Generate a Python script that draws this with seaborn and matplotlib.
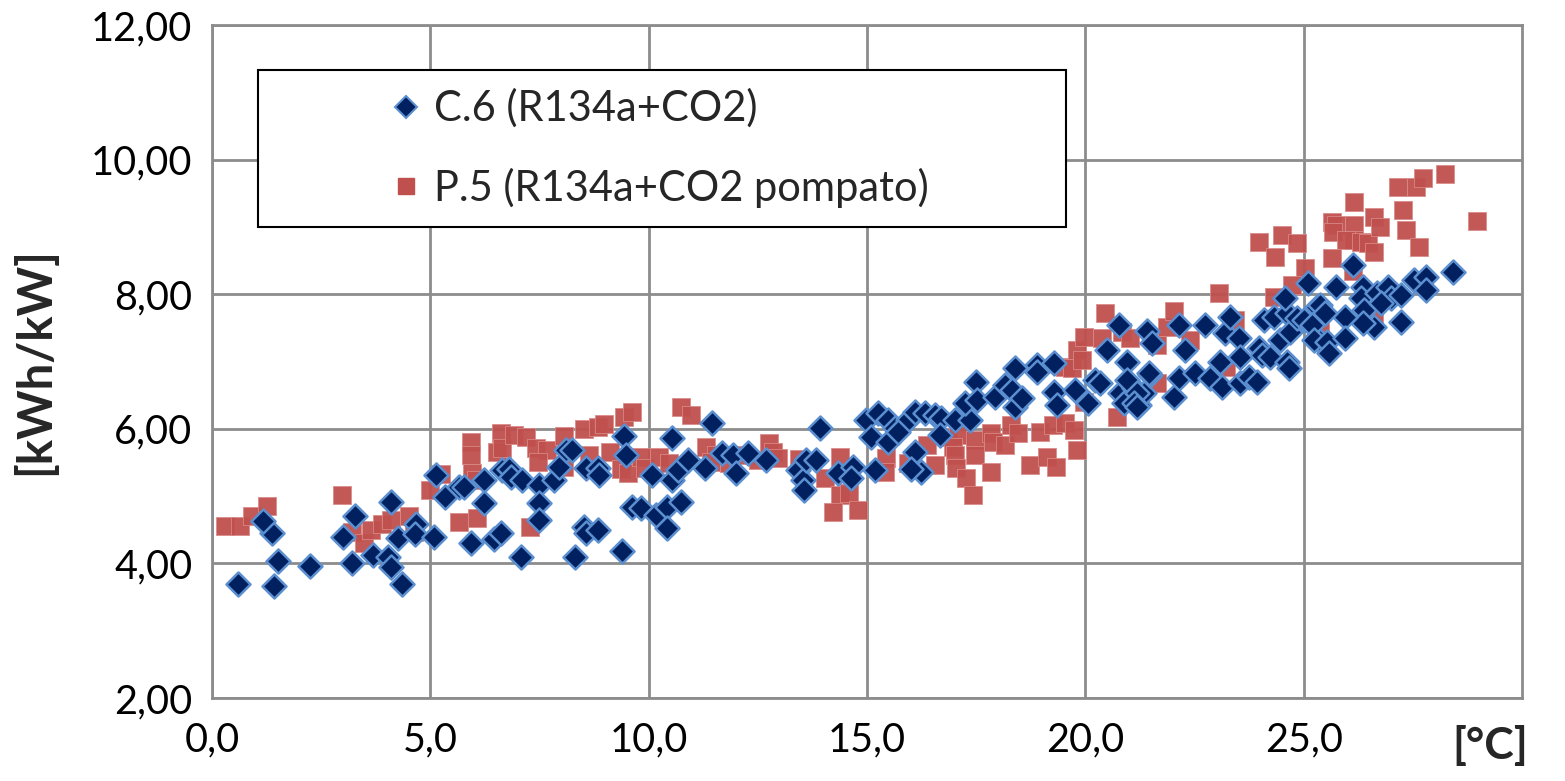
import matplotlib
matplotlib.use("Agg")
import matplotlib.pyplot as plt
import seaborn as sns
import pandas as pd
from matplotlib.lines import Line2D

# ---- data ----
c6_label = "C.6 (R134a+CO2)"
p5_label = "P.5 (R134a+CO2 pompato)"

c6_temp = [0.59, 1.42, 1.51, 1.37, 1.16, 2.24, 3.20, 3.00, 3.27, 3.68, 4.02, 4.11, 4.34, 4.11, 4.25, 4.68, 4.66, 5.09, 5.14, 5.34, 5.66,
           5.78, 6.23, 6.23, 5.94, 6.46, 6.62, 7.08, 6.64, 6.80, 6.85, 7.10, 7.49, 7.49, 7.49, 7.83, 7.95, 8.11, 8.24, 8.52, 8.56, 8.84,
           8.31, 8.56, 8.84, 8.86, 9.38, 9.43, 9.47, 9.61, 9.82, 10.07, 10.16, 10.41, 10.41, 10.53, 10.53, 10.73, 10.68, 10.91,
           11.30, 11.44, 11.67, 11.94, 11.99, 12.69, 12.28, 13.42, 13.54, 13.56, 13.61, 13.84, 13.93, 14.34, 14.68, 14.63, 14.98,
           15.25, 15.48, 15.09, 15.48, 15.18, 15.64, 15.94, 16.10, 16.32, 16.55, 16.10, 16.23,
           15.71, 16.69, 17.01, 17.35, 17.24, 17.49, 17.53, 17.92, 18.15, 18.33, 18.38, 18.56, 18.38, 18.90, 18.90, 19.29, 19.29,
           19.36, 19.77, 20.05, 20.21, 20.34, 20.50, 20.78, 20.96, 20.80, 21.12, 20.89, 21.23, 21.35, 21.42, 21.48, 16.00, 16.67,
           21.53, 22.15, 22.28, 22.74, 23.20, 23.31, 23.52, 23.54, 23.08, 23.97, 24.04, 24.22, 24.09, 24.32, 24.45, 24.61, 24.68,
           24.61, 24.66, 24.57, 24.84, 25.11, 25.00, 25.30, 25.34, 20.96, 21.19, 21.46, 21.12, 22.03, 22.15, 22.51, 22.85, 23.13,
           23.54, 23.74, 23.92, 21.19,
           25.75, 26.14, 26.37, 26.32, 26.67, 26.94, 27.01, 27.24, 26.39, 26.60, 26.37, 25.94, 25.37, 25.48, 25.18, 25.23, 25.53,
           25.94, 25.59, 27.53, 27.81, 27.81, 28.42, 27.24, 26.78]
c6_ratio = [3.70, 3.67, 4.03, 4.45, 4.63, 3.96, 4.00, 4.39, 4.70, 4.12, 4.09, 3.94, 3.70, 4.91, 4.37, 4.59, 4.43, 4.39, 5.31, 4.99, 5.14,
            5.14, 5.24, 4.90, 4.31, 4.36, 4.45, 4.09, 5.39, 5.40, 5.28, 5.24, 5.17, 4.90, 4.65, 5.24, 5.43, 5.69, 5.69, 4.54, 4.45, 4.50,
            4.09, 5.42, 5.42, 5.31, 4.19, 5.89, 5.61, 4.84, 4.82, 5.31, 4.72, 4.84, 4.52, 5.86, 5.24, 4.91, 5.39, 5.54,
            5.42, 6.09, 5.64, 5.61, 5.34, 5.54, 5.64, 5.39, 5.24, 5.09, 5.54, 5.54, 6.01, 5.34, 5.43, 5.27, 6.13,
            6.24, 6.13, 5.88, 5.80, 5.39, 6.01, 6.13, 6.25, 6.24, 6.21, 5.66, 5.36,
            5.95, 6.16, 6.13, 6.13, 6.38, 6.70, 6.43, 6.47, 6.65, 6.58, 6.32, 6.46, 6.90, 6.95, 6.84, 6.98, 6.55,
            6.35, 6.58, 6.38, 6.73, 6.68, 7.17, 7.54, 6.99, 6.53, 6.61, 6.38, 6.35, 6.53, 7.46, 6.80, 5.41, 5.91,
            7.28, 7.54, 7.17, 7.54, 7.42, 7.66, 7.35, 7.07, 6.99, 7.20, 7.10, 7.07, 7.62, 7.66, 7.32, 7.72, 7.44,
            6.99, 6.90, 7.94, 7.65, 8.17, 7.62, 7.81, 7.32, 6.73, 6.53, 6.83, 6.38, 6.47, 6.76, 6.83, 6.76, 6.62,
            6.68, 6.77, 6.70, 6.32,
            8.10, 8.44, 8.10, 7.95, 8.02, 8.11, 7.95, 7.99, 7.77, 7.51, 7.57, 7.66, 7.84, 7.72, 7.54, 7.32, 7.29,
            7.35, 7.13, 8.21, 8.26, 8.06, 8.33, 7.59, 7.87]

p5_temp = [0.30, 0.64, 0.91, 1.26, 2.97, 3.20, 3.47, 3.65, 3.90, 4.09, 4.52, 4.63, 5.00, 5.25, 5.66,
           5.94, 5.94, 5.96, 6.05, 6.07, 6.62, 6.53, 6.64, 6.92, 7.19, 7.42, 7.67, 7.47, 8.06, 8.06, 7.28, 8.52, 8.84, 8.97,
           9.43, 9.61, 8.63, 9.11, 9.36, 9.52, 9.82, 9.91, 10.23, 10.46, 10.75, 10.96,
           11.32, 11.55, 11.42, 11.83, 12.21, 12.51, 12.76, 12.85, 12.97, 13.45, 14.04, 14.38, 14.38, 14.59, 14.22, 14.79,
           15.43, 15.41, 15.94, 16.37, 16.55,
           16.85, 17.08, 16.96, 17.01, 17.03, 17.26, 17.42, 17.47, 17.47, 17.83, 17.88, 17.83, 18.15, 18.29, 18.45, 18.74,
           18.97, 19.13, 19.32, 19.25, 19.54, 19.75, 19.82, 19.98, 19.54, 19.70, 19.82, 19.93, 19.98, 20.39, 20.46, 20.73,
           20.84, 21.03, 21.64, 21.64,
           21.87, 22.03, 22.40, 23.42, 23.06, 23.97, 24.50, 24.84, 24.34, 25.02, 24.73, 24.32, 23.22, 25.37,
           25.64, 25.64, 25.75, 25.68, 26.16, 26.16, 26.16, 25.98, 26.32, 26.48, 26.60, 26.60, 26.74, 26.14, 27.17, 27.58,
           27.74, 28.24, 27.28, 27.35, 27.65, 28.97, 26.62]
p5_ratio = [4.56, 4.55, 4.70, 4.86, 5.01, 4.46, 4.31, 4.49, 4.58, 4.64, 4.70, 4.46, 5.09, 5.33, 4.62,
            5.80, 5.61, 5.34, 5.24, 4.67, 5.94, 5.66, 5.72, 5.91, 5.88, 5.72, 5.69, 5.51, 5.89, 5.43, 4.54, 6.00, 6.03, 6.07,
            6.18, 6.25, 5.61, 5.66, 5.40, 5.34, 5.58, 5.42, 5.58, 5.49, 6.32, 6.21,
            5.73, 5.61, 5.51, 5.49, 5.61, 5.54, 5.79, 5.66, 5.57, 5.55, 5.27, 5.58, 5.02, 5.05, 4.76, 4.79,
            5.57, 5.36, 5.49, 5.76, 5.46,
            5.88, 5.91, 5.73, 5.61, 5.42, 5.27, 5.02, 5.83, 5.61, 5.94, 5.80, 5.36, 5.76, 6.06, 5.94, 5.46,
            5.95, 5.58, 5.43, 6.06, 6.09, 5.98, 5.69, 6.40, 6.92, 6.90, 7.17, 7.02, 7.36, 7.35, 7.72, 6.18,
            7.44, 7.35, 6.68, 7.25,
            7.51, 7.75, 7.32, 7.62, 8.02, 8.78, 8.88, 8.76, 8.55, 8.39, 8.14, 7.96, 6.92, 7.50,
            8.54, 9.07, 9.03, 8.93, 9.37, 9.03, 8.81, 8.81, 8.78, 8.76, 8.63, 9.15, 9.00, 8.35, 9.59, 9.59,
            9.73, 9.79, 9.25, 8.95, 8.70, 9.09, 7.69]

x_ticks = [0, 5, 10, 15, 20, 25]
x_tick_labels = ["0,0", "5,0", "10,0", "15,0", "20,0", "25,0"]
y_ticks = [2, 4, 6, 8, 10, 12]
y_tick_labels = ["2,00", "4,00", "6,00", "8,00", "10,00", "12,00"]

# ---- style ----
sns.set_theme(style="white")
plt.rcParams["font.family"] = ["Lato", "DejaVu Sans"]

df_c6 = pd.DataFrame({"temp": c6_temp, "ratio": c6_ratio})
df_p5 = pd.DataFrame({"temp": p5_temp, "ratio": p5_ratio})

fig = plt.figure(figsize=(15.65, 7.81), dpi=100)
ax = fig.add_axes([212 / 1565, 1 - 698 / 781, (1522 - 212) / 1565, (698 - 25) / 781])

navy = "#002060"
edge_blue = "#5b8fd0"
red = "#c0504d"

sns.scatterplot(data=df_p5, x="temp", y="ratio", marker="s", s=150, color=red,
                edgecolor="#d98a88", linewidth=0.6, alpha=0.95, ax=ax, zorder=3)
sns.scatterplot(data=df_c6, x="temp", y="ratio", marker="D", s=150, color=navy,
                edgecolor=edge_blue, linewidth=1.8, ax=ax, zorder=4)

ax.set_xlim(0, 30)
ax.set_ylim(2, 12)
ax.set_xticks(x_ticks)
ax.set_xticklabels(x_tick_labels)
ax.set_yticks(y_ticks)
ax.set_yticklabels(y_tick_labels)
ax.tick_params(axis="both", which="both", length=0, labelsize=28.5, colors="black")
ax.tick_params(axis="x", pad=17)
ax.tick_params(axis="y", pad=14)

ax.grid(True, which="major", color="#8c8c8c", linewidth=2)
ax.set_axisbelow(True)
for sp in ax.spines.values():
    sp.set_color("#8c8c8c")
    sp.set_linewidth(2)

ax.set_xlabel("[°C]", fontsize=32, fontweight="bold", va="center")
ax.xaxis.set_label_coords(0.976, -0.07)
ax.set_ylabel("[kWh/kW]", fontsize=34, fontweight="bold")
ax.yaxis.set_label_coords(-0.118, 0.5)

handles = [
    Line2D([], [], marker="D", linestyle="none", markersize=11, markerfacecolor=navy,
           markeredgecolor=edge_blue, markeredgewidth=1.5),
    Line2D([], [], marker="s", linestyle="none", markersize=11, markerfacecolor=red,
           markeredgecolor=red),
]
leg = ax.legend(handles, [c6_label, p5_label], loc="upper left",
                bbox_to_anchor=((258 - 212) / 1310, (698 - 225) / 673, 808 / 1310, 155 / 673),
                mode="expand", fontsize=30, frameon=True, fancybox=False, framealpha=1,
                edgecolor="black", borderpad=0.45, labelspacing=0.95,
                handletextpad=-2.43, borderaxespad=0, handlelength=6.21)
leg.get_frame().set_linewidth(1.5)
leg.set_zorder(10)

fig.savefig("out.png", dpi=100)
